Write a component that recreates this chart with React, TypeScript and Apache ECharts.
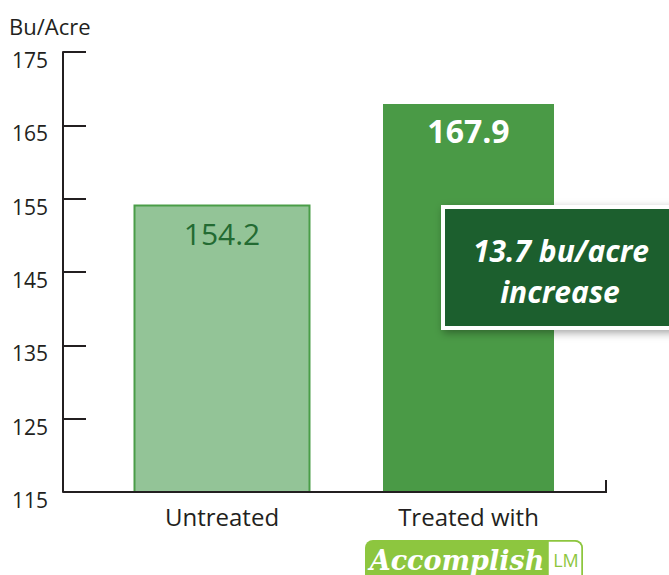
import React, { useEffect, useRef } from "react";
import * as echarts from "echarts";

const categories = ["Untreated", "Treated with"];
const untreatedValues: (number | string)[] = [154.2, "-"];
const treatedValues: (number | string)[] = ["-", 167.9];
const yTicks = [115, 125, 135, 145, 155, 165, 175];
const calloutLines = ["13.7 bu/acre", "increase"];
const yTitle = "Bu/Acre";

const FONT = "'Open Sans', 'Noto Sans', sans-serif";
const INK = "#231f20";

export default function App() {
  const ref = useRef<HTMLDivElement>(null);
  useEffect(() => {
    const chart = echarts.init(ref.current!, undefined, { renderer: "svg" });
    chart.setOption({
      animation: false,
      backgroundColor: "#ffffff",
      grid: { left: 98.75, right: 77.25, top: 52, bottom: 83 },
      xAxis: [
        {
          type: "category",
          data: categories,
          axisLine: { show: false },
          axisTick: { show: false },
          axisLabel: { color: INK, fontSize: 24, fontFamily: FONT, margin: 12 },
        },
        {
          type: "category",
          data: categories,
          show: false,
        },
      ],
      yAxis: {
        type: "value",
        min: yTicks[0],
        max: yTicks[yTicks.length - 1],
        interval: 10,
        offset: 35.75,
        splitLine: { show: false },
        axisLine: { show: true, lineStyle: { color: INK, width: 2 } },
        axisTick: { show: true, inside: true, length: 23, lineStyle: { color: INK, width: 2 } },
        axisLabel: {
          color: INK,
          fontSize: 21,
          fontFamily: FONT,
          margin: 15,
          verticalAlign: "top",
          lineHeight: 16,
        },
      },
      series: [
        {
          type: "bar",
          xAxisIndex: 0,
          data: untreatedValues,
          barWidth: 177,
          barGap: "-100%",
          itemStyle: { color: "#93c497", borderColor: "#4a9d48", borderWidth: 2 },
          label: {
            show: true,
            position: "insideTop",
            distance: 14,
            color: "#236b32",
            fontSize: 30,
            fontFamily: FONT,
          },
        },
        {
          type: "bar",
          xAxisIndex: 1,
          data: treatedValues,
          barWidth: 171,
          barGap: "-100%",
          itemStyle: { color: "#4a9a46" },
          label: {
            show: true,
            position: "insideTop",
            distance: 10,
            color: "#ffffff",
            fontSize: 32,
            fontWeight: "bold",
            fontFamily: FONT,
          },
        },
      ],
      graphic: [
        {
          type: "text",
          left: 9,
          top: 15,
          z: 100,
          style: { text: yTitle, fill: INK, font: `22px ${FONT}` },
        },
        {
          type: "polyline",
          z: 100,
          shape: { points: [[63, 492], [606, 492], [606, 480]] },
          style: { stroke: INK, lineWidth: 2, fill: null },
        },
        {
          type: "rect",
          z: 100,
          shape: { x: 443, y: 207, width: 240, height: 121 },
          style: {
            fill: "#1b5e2f",
            stroke: "#ffffff",
            lineWidth: 4,
            shadowBlur: 8,
            shadowColor: "rgba(0,0,0,0.35)",
            shadowOffsetX: 2,
            shadowOffsetY: 3,
          },
        },
        {
          type: "text",
          z: 101,
          x: 561,
          y: 250,
          style: {
            text: calloutLines[0],
            fill: "#ffffff",
            font: `italic bold 30px ${FONT}`,
            align: "center",
            verticalAlign: "middle",
          },
        },
        {
          type: "text",
          z: 101,
          x: 560,
          y: 291,
          style: {
            text: calloutLines[1],
            fill: "#ffffff",
            font: `italic bold 30px ${FONT}`,
            align: "center",
            verticalAlign: "middle",
          },
        },
        {
          type: "rect",
          z: 100,
          shape: { x: 365, y: 540, width: 218, height: 45, r: [8, 8, 0, 0] },
          style: { fill: "#8dc63f" },
        },
        {
          type: "rect",
          z: 101,
          shape: { x: 548, y: 541, width: 34, height: 40, r: [0, 7, 0, 0] },
          style: { fill: "#ffffff", stroke: "#8dc63f", lineWidth: 1.5 },
        },
        {
          type: "text",
          z: 101,
          x: 457,
          y: 560,
          style: {
            text: "Accomplish",
            fill: "#ffffff",
            font: `italic bold 27px 'DejaVu Serif', serif`,
            align: "center",
            verticalAlign: "middle",
          },
        },
        {
          type: "text",
          z: 101,
          x: 566,
          y: 560,
          style: {
            text: "LM",
            fill: "#8dc63f",
            font: `18px ${FONT}`,
            align: "center",
            verticalAlign: "middle",
          },
        },
      ],
    });
    return () => chart.dispose();
  }, []);
  return (
    <div
      ref={ref}
      style={{ position: "fixed", left: 0, top: 0, width: 669, height: 575 }}
    />
  );
}
